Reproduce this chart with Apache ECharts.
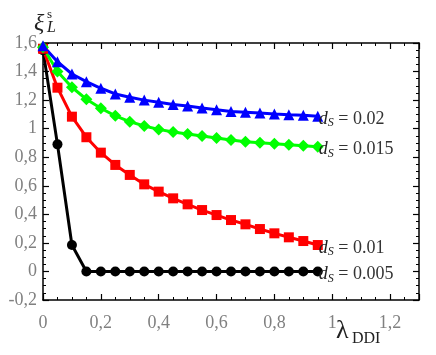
<!DOCTYPE html>
<html>
<head>
<meta charset="utf-8">
<script src="https://cdn.jsdelivr.net/npm/echarts@6/dist/echarts.min.js"></script>
<style>
  html, body { margin: 0; padding: 0; background: #fff; }
  #chart-container { width: 436px; height: 355px; }
</style>
</head>
<body>
<div id="chart-container"></div>
<script>
// lambda_DDI sample points
const lambdaVals = [0, 0.05, 0.1, 0.15, 0.2, 0.25, 0.3, 0.35, 0.4, 0.45,
                    0.5, 0.55, 0.6, 0.65, 0.7, 0.75, 0.8, 0.85, 0.9, 0.95];

// xi_L^s for each d_S
const ds002 = [1.58, 1.469, 1.383, 1.329, 1.283, 1.243, 1.220, 1.200, 1.185, 1.170,
               1.159, 1.145, 1.133, 1.120, 1.115, 1.110, 1.103, 1.098, 1.094, 1.087];
const ds0015 = [1.57, 1.400, 1.290, 1.206, 1.143, 1.090, 1.049, 1.019, 0.995, 0.977,
                0.963, 0.949, 0.935, 0.921, 0.909, 0.901, 0.895, 0.887, 0.881, 0.874];
const ds001 = [1.56, 1.287, 1.084, 0.940, 0.832, 0.746, 0.676, 0.610, 0.559, 0.512,
               0.470, 0.430, 0.395, 0.360, 0.330, 0.297, 0.267, 0.239, 0.213, 0.185];
const ds0005 = [1.55, 0.89, 0.185, 0, 0, 0, 0, 0, 0, 0,
                0, 0, 0, 0, 0, 0, 0, 0, 0, 0];

const seriesNames = ['0.005', '0.01', '0.015', '0.02'];

const serif = "'Liberation Serif', 'DejaVu Serif', serif";
const fmt = v => String(Math.round(v * 10) / 10).replace('.', ',');

function pairs(ys) {
  return lambdaVals.map((x, i) => [x, ys[i]]);
}

function makeSeries(name, ys, color, symbol, size) {
  return {
    name: name,
    type: 'line',
    data: pairs(ys),
    symbol: symbol,
    symbolSize: size,
    lineStyle: { color: color, width: 3 },
    itemStyle: { color: color },
    clip: false,
    endLabel: {
      show: true,
      distance: 1,
      offset: [0, 3],
      formatter: () => '{d|d}{s|S}{t| = ' + name + '}',
      rich: {
        d: { fontFamily: serif, fontStyle: 'italic', fontSize: 18, color: '#222', lineHeight: 20, verticalAlign: 'middle' },
        s: { fontFamily: serif, fontStyle: 'italic', fontSize: 12, color: '#222', lineHeight: 11, verticalAlign: 'bottom' },
        t: { fontFamily: serif, fontSize: 18, color: '#333', lineHeight: 20, verticalAlign: 'middle' }
      }
    }
  };
}

const axisLine = { show: true, onZero: false, lineStyle: { color: '#000', width: 1.5 } };
const axisTick = { show: true, inside: true, length: 6, lineStyle: { color: '#000', width: 1.2 } };
const minorTick = { show: true, splitNumber: 4, length: 3, lineStyle: { color: '#000', width: 1 } };

const myChart = echarts.init(document.getElementById('chart-container'));
myChart.setOption({
  animation: false,
  grid: { left: 43, right: 17, top: 43, bottom: 55 },
  xAxis: [
    {
      type: 'value', min: 0, max: 1.3, interval: 0.2,
      axisLine: axisLine, axisTick: axisTick, minorTick: minorTick,
      splitLine: { show: false },
      axisLabel: { formatter: fmt, showMaxLabel: false, margin: 14, color: '#808080', fontFamily: serif, fontSize: 18 }
    },
    {
      type: 'value', min: 0, max: 1.3, interval: 0.2, position: 'top',
      axisLine: axisLine, axisTick: axisTick, minorTick: minorTick,
      splitLine: { show: false }, axisLabel: { show: false }
    }
  ],
  yAxis: [
    {
      type: 'value', min: -0.2, max: 1.6, interval: 0.2,
      axisLine: axisLine, axisTick: axisTick, minorTick: minorTick,
      splitLine: { show: false },
      axisLabel: { formatter: fmt, margin: 6, color: '#808080', fontFamily: serif, fontSize: 18 }
    },
    {
      type: 'value', min: -0.2, max: 1.6, interval: 0.2, position: 'right',
      axisLine: axisLine, axisTick: axisTick, minorTick: minorTick,
      splitLine: { show: false }, axisLabel: { show: false }
    }
  ],
  graphic: [
    { type: 'text', left: 34, top: 12, style: { text: 'ξ', fontFamily: serif, fontStyle: 'italic', fontSize: 24, fill: '#222' } },
    { type: 'text', left: 47, top: 8, style: { text: 's', fontFamily: serif, fontSize: 13, fill: '#222' } },
    { type: 'text', left: 47, top: 20, style: { text: 'L', fontFamily: serif, fontStyle: 'italic', fontSize: 16, fill: '#222' } },
    { type: 'text', left: 336, top: 318, style: { text: 'λ', fontFamily: serif, fontSize: 26, fill: '#222' } },
    { type: 'text', left: 352, top: 331, style: { text: 'DDI', fontFamily: serif, fontSize: 16, fill: '#222' } }
  ],
  series: [
    makeSeries(seriesNames[0], ds0005, '#000000', 'circle', 10),
    makeSeries(seriesNames[1], ds001, '#ff0000', 'rect', 10),
    makeSeries(seriesNames[2], ds0015, '#00ff00', 'diamond', 12),
    makeSeries(seriesNames[3], ds002, '#0000ff', 'triangle', 11)
  ]
});
</script>
</body>
</html>
